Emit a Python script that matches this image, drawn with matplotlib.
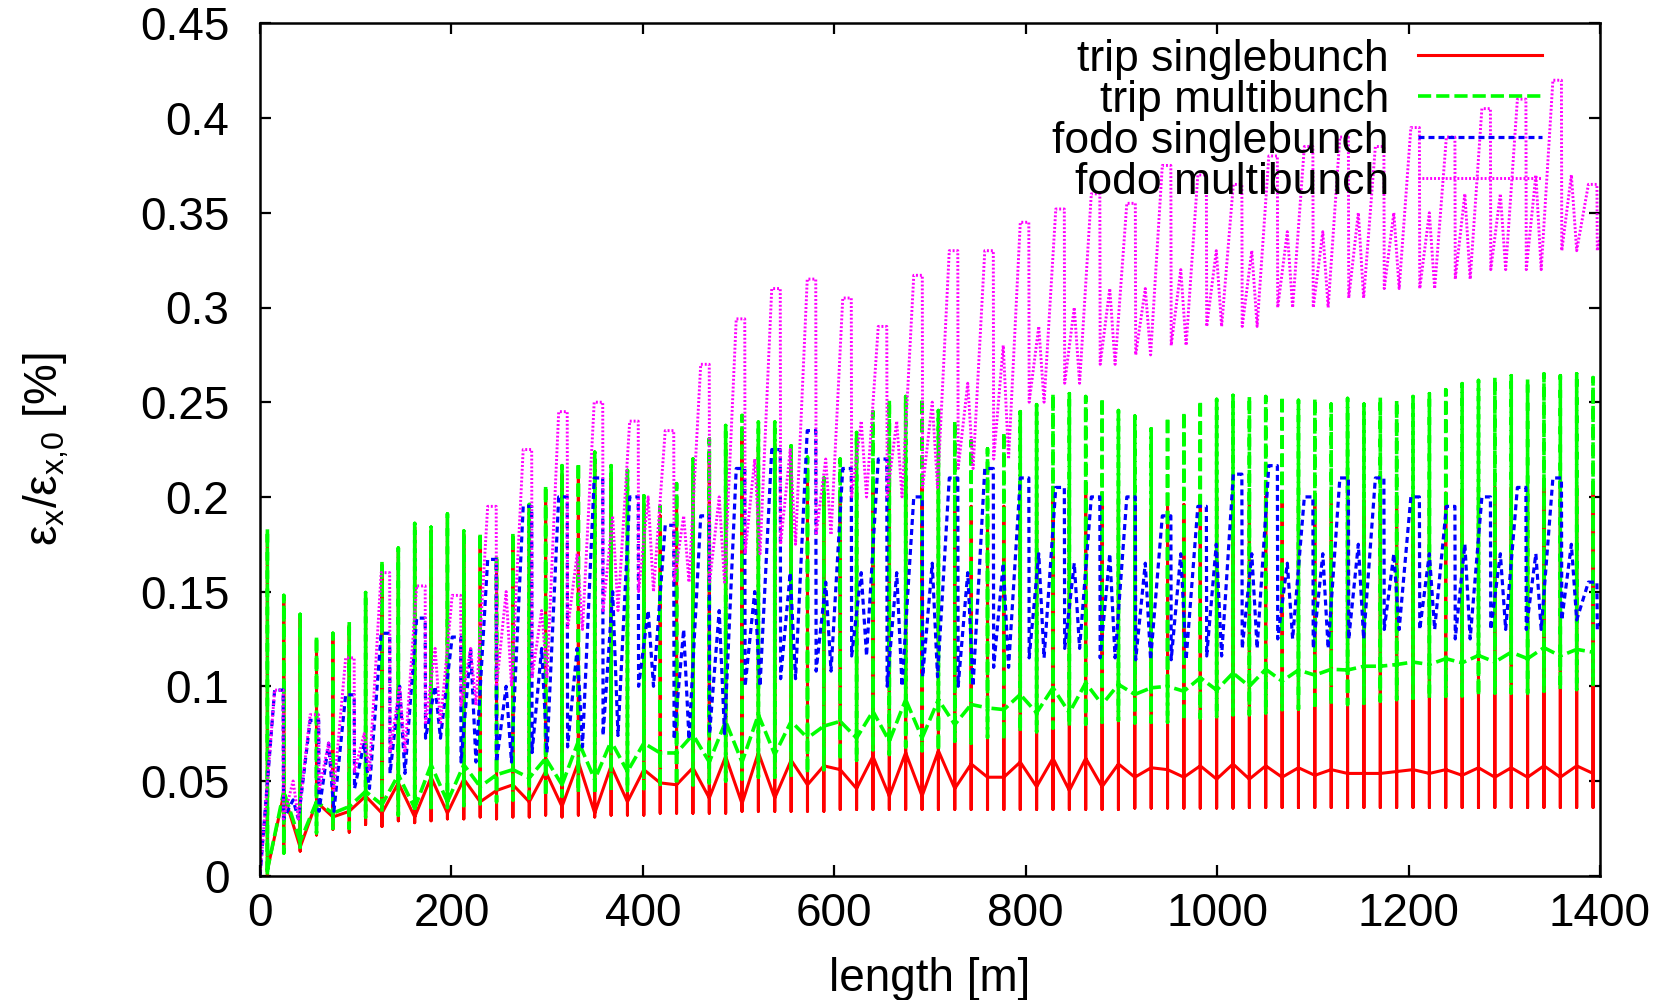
import numpy as np
import matplotlib
matplotlib.use("Agg")
import matplotlib.pyplot as plt
from matplotlib.lines import Line2D

plt.rcParams['font.family'] = ['Liberation Sans', 'DejaVu Sans']
plt.rcParams['lines.scale_dashes'] = False

# ---------------- data ----------------
# triplet lattice: cell positions [m]
trip_x0 = 7.7
trip_cell = 17.1
n_trip = 82
trip_x = trip_x0 + trip_cell * np.arange(n_trip)

# trip singlebunch (red): zigzag value, spike top, spike bottom
red_base = [0.003, 0.043, 0.015, 0.039, 0.031, 0.034, 0.042, 0.033, 0.049, 0.031,
            0.052, 0.033, 0.051, 0.039, 0.045, 0.048, 0.039, 0.055, 0.0365, 0.060,
            0.033, 0.058, 0.039, 0.056, 0.049, 0.048, 0.057, 0.041, 0.063, 0.038,
            0.065, 0.041, 0.061, 0.048, 0.058, 0.056, 0.046, 0.063, 0.042, 0.065,
            0.042, 0.066, 0.046, 0.059, 0.052, 0.052, 0.060, 0.047, 0.062, 0.045,
            0.062, 0.047, 0.059, 0.052, 0.057, 0.056, 0.052, 0.058, 0.051, 0.059,
            0.051, 0.058, 0.052, 0.057, 0.053, 0.056, 0.054, 0.054, 0.054, 0.055,
            0.056, 0.054, 0.056, 0.053, 0.057, 0.052, 0.057, 0.052, 0.058, 0.052,
            0.058, 0.054]
red_top = [0.180, 0.146, 0.136, 0.124, 0.126, 0.132, 0.147, 0.164, 0.171, 0.184,
           0.182, 0.189, 0.180, 0.179, 0.167, 0.179, 0.194, 0.204, 0.212, 0.214,
           0.218, 0.210, 0.207, 0.195, 0.190, 0.200, 0.212, 0.222, 0.228, 0.232,
           0.228, 0.228, 0.215, 0.208, 0.198, 0.200, 0.205, 0.208, 0.210, 0.210,
           0.208, 0.205, 0.200, 0.195, 0.190, 0.195, 0.200, 0.202, 0.205, 0.205,
           0.203, 0.202, 0.198, 0.195, 0.192, 0.195, 0.196, 0.198, 0.200, 0.200,
           0.200, 0.200, 0.200, 0.199, 0.200, 0.198, 0.200, 0.198, 0.200, 0.199,
           0.200, 0.201, 0.202, 0.203, 0.204, 0.205, 0.205, 0.204, 0.206, 0.205,
           0.206, 0.204]
red_bot = [0.000, 0.012, 0.013, 0.0215, 0.0245, 0.023, 0.027, 0.026, 0.029, 0.028,
           0.029, 0.030, 0.030, 0.031, 0.030, 0.031, 0.031, 0.032, 0.031, 0.032,
           0.031, 0.032, 0.032, 0.032, 0.033, 0.033, 0.033, 0.033, 0.033, 0.034,
           0.034, 0.034, 0.034, 0.034, 0.034, 0.035, 0.035, 0.035, 0.035, 0.035,
           0.035, 0.035, 0.035, 0.035, 0.035, 0.035, 0.035, 0.035, 0.035, 0.035,
           0.035, 0.035, 0.035, 0.0357, 0.0357, 0.0357, 0.0357, 0.0357, 0.0357, 0.0357,
           0.036, 0.036, 0.036, 0.036, 0.036, 0.036, 0.036, 0.036, 0.036, 0.036,
           0.036, 0.036, 0.036, 0.036, 0.036, 0.036, 0.036, 0.036, 0.036, 0.036,
           0.036, 0.036]

# trip multibunch (green): zigzag value, spike top, spike bottom
green_base = [0.003, 0.0445, 0.018, 0.039, 0.033, 0.0365, 0.0445, 0.0375, 0.0533, 0.0357,
              0.0586, 0.039, 0.0586, 0.047, 0.0533, 0.056, 0.0516, 0.062, 0.048, 0.071,
              0.0507, 0.071, 0.055, 0.070, 0.0648, 0.0648, 0.0745, 0.060, 0.0815, 0.060,
              0.085, 0.064, 0.0815, 0.0727, 0.079, 0.0815, 0.0727, 0.0868, 0.071, 0.093,
              0.0727, 0.093, 0.0798, 0.0904, 0.0886, 0.0877, 0.0957, 0.086, 0.0992, 0.086,
              0.1018, 0.0904, 0.101, 0.0957, 0.0992, 0.100, 0.0974, 0.1045, 0.098, 0.107,
              0.100, 0.109, 0.1027, 0.1086, 0.1059, 0.109, 0.1086, 0.1106, 0.1106, 0.1115,
              0.1128, 0.1115, 0.1146, 0.1124, 0.1163, 0.1128, 0.118, 0.1146, 0.1204, 0.116,
              0.1195, 0.118]
green_top = [0.183, 0.148, 0.138, 0.1265, 0.128, 0.134, 0.1495, 0.166, 0.173, 0.186,
             0.184, 0.191, 0.182, 0.181, 0.169, 0.181, 0.196, 0.206, 0.2165, 0.218,
             0.2236, 0.2165, 0.214, 0.2006, 0.195, 0.207, 0.220, 0.2307, 0.2377, 0.243,
             0.2395, 0.2395, 0.227, 0.221, 0.210, 0.220, 0.234, 0.245, 0.251, 0.253,
             0.252, 0.2456, 0.240, 0.2297, 0.2254, 0.234, 0.245, 0.2487, 0.2545, 0.2545,
             0.253, 0.252, 0.2456, 0.2427, 0.236, 0.242, 0.2448, 0.2508, 0.2515, 0.2536,
             0.253, 0.253, 0.253, 0.251, 0.252, 0.249, 0.252, 0.249, 0.2525, 0.251,
             0.253, 0.2545, 0.2566, 0.2598, 0.2615, 0.263, 0.264, 0.262, 0.265, 0.264,
             0.265, 0.263]
green_bot = [0.000, 0.012, 0.015, 0.0226, 0.025, 0.025, 0.031, 0.0335, 0.032, 0.034,
             0.036, 0.036, 0.037, 0.038, 0.039, 0.040, 0.041, 0.042, 0.042, 0.044,
             0.043, 0.045, 0.045, 0.046, 0.047, 0.048, 0.048, 0.049, 0.050, 0.051,
             0.052, 0.052, 0.053, 0.054, 0.056, 0.061, 0.061, 0.0665, 0.064, 0.068,
             0.066, 0.066, 0.071, 0.070, 0.073, 0.072, 0.076, 0.076, 0.078, 0.079,
             0.080, 0.081, 0.082, 0.0807, 0.081, 0.081, 0.082, 0.0833, 0.084, 0.085,
             0.085, 0.086, 0.0877, 0.088, 0.088, 0.0904, 0.0904, 0.091, 0.0922, 0.093,
             0.0937, 0.0937, 0.0948, 0.095, 0.095, 0.0965, 0.0965, 0.0965, 0.0974, 0.0983,
             0.0983, 0.101]

# FODO lattice: tooth positions [m]
fodo_x0 = 19.7
fodo_cell = 37.1
n_fodo = 38
fodo_x = fodo_x0 + fodo_cell * np.arange(n_fodo)

# fodo singlebunch (blue): plateau top, low after drop, intermediate bump
blue_top = [0.098, 0.082, 0.0955, 0.128, 0.136, 0.126, 0.167, 0.195, 0.200, 0.210,
            0.200, 0.185, 0.190, 0.215, 0.225, 0.235, 0.215, 0.220, 0.200, 0.210,
            0.215, 0.210, 0.205, 0.200, 0.200, 0.190, 0.195, 0.212, 0.2165, 0.200,
            0.210, 0.210, 0.200, 0.195, 0.200, 0.205, 0.210, 0.155]
blue_low = [0.030, 0.034, 0.046, 0.054, 0.0726, 0.060, 0.060, 0.065, 0.068, 0.074,
            0.100, 0.072, 0.075, 0.100, 0.104, 0.108, 0.116, 0.100, 0.105, 0.100,
            0.110, 0.115, 0.120, 0.115, 0.114, 0.114, 0.116, 0.120, 0.125, 0.120,
            0.125, 0.130, 0.130, 0.125, 0.130, 0.130, 0.135, 0.130]
blue_mid = [0.040, 0.070, 0.070, 0.100, 0.100, 0.120, 0.100, 0.120, 0.120, 0.150,
            0.140, 0.130, 0.140, 0.150, 0.160, 0.155, 0.160, 0.160, 0.165, 0.160,
            0.165, 0.170, 0.165, 0.170, 0.165, 0.170, 0.175, 0.170, 0.165, 0.170,
            0.175, 0.170, 0.170, 0.175, 0.170, 0.170, 0.175, 0.140]

# fodo multibunch (magenta): plateau top, low after drop, intermediate bump
mag_top = [0.098, 0.085, 0.115, 0.160, 0.153, 0.148, 0.195, 0.225, 0.245, 0.250,
           0.240, 0.235, 0.270, 0.294, 0.310, 0.315, 0.305, 0.290, 0.317, 0.330,
           0.330, 0.345, 0.352, 0.360, 0.355, 0.375, 0.370, 0.365, 0.380, 0.385,
           0.390, 0.385, 0.395, 0.390, 0.405, 0.410, 0.420, 0.365]
mag_low = [0.030, 0.045, 0.055, 0.065, 0.080, 0.090, 0.100, 0.105, 0.130, 0.140,
           0.150, 0.155, 0.155, 0.170, 0.175, 0.180, 0.200, 0.200, 0.205, 0.215,
           0.220, 0.250, 0.260, 0.270, 0.275, 0.280, 0.290, 0.290, 0.300, 0.300,
           0.305, 0.310, 0.310, 0.315, 0.320, 0.320, 0.330, 0.330]
mag_mid = [0.050, 0.070, 0.075, 0.100, 0.120, 0.120, 0.150, 0.140, 0.170, 0.190,
           0.200, 0.190, 0.200, 0.220, 0.225, 0.220, 0.240, 0.240, 0.250, 0.260,
           0.280, 0.290, 0.300, 0.310, 0.310, 0.320, 0.330, 0.330, 0.340, 0.340,
           0.350, 0.350, 0.350, 0.360, 0.360, 0.370, 0.370, 0.350]

labels = ["trip singlebunch", "trip multibunch", "fodo singlebunch", "fodo multibunch"]
colors = ["#ff0000", "#00ff00", "#0000ff", "#ff00ff"]

# ---------------- build polylines from the data ----------------
def trip_path(x, base, top, bot):
    xs, ys = [], []
    for xi, b, t, lo in zip(x, base, top, bot):
        xs += [xi, xi, xi, xi]
        ys += [b, t, lo, b]
    return np.array(xs), np.array(ys)

def fodo_path(x, top, low, mid, cell):
    xs, ys = [0.0], [0.0]
    for xi, t, lo, md in zip(x, top, low, mid):
        xs += [xi - 0.12 * cell, xi + 0.12 * cell, xi + 0.13 * cell,
               xi + 0.40 * cell, xi + 0.55 * cell]
        ys += [t, t, lo, md, lo]
    return np.array(xs), np.array(ys)

rx, ry = trip_path(trip_x, red_base, red_top, red_bot)
gx, gy = trip_path(trip_x, green_base, green_top, green_bot)
bx, by = fodo_path(fodo_x, blue_top, blue_low, blue_mid, fodo_cell)
mx, my = fodo_path(fodo_x, mag_top, mag_low, mag_mid, fodo_cell)

# ---------------- plot ----------------
fig = plt.figure(figsize=(16.68, 10.0), dpi=100)
ax = fig.add_axes([0.1559, 0.1243, 0.8033, 0.8523])

styles = [
    dict(color=colors[0], lw=2.2, linestyle='-'),
    dict(color=colors[1], lw=2.6, linestyle=(0, (9.5, 3.6))),
    dict(color=colors[2], lw=2.3, linestyle=(0, (4.3, 2.9))),
    dict(color=colors[3], lw=2.1, linestyle=(0, (1.4, 1.4))),
]

ax.plot(rx, ry, **styles[0])
ax.plot(gx, gy, **styles[1])
ax.plot(bx, by, **styles[2])
ax.plot(mx, my, **styles[3])

ax.set_xlim(0, 1400)
ax.set_ylim(0, 0.45)
ax.set_xticks(np.arange(0, 1401, 200))
ax.set_yticks(np.arange(0, 0.451, 0.05))
ax.set_yticklabels(["0", "0.05", "0.1", "0.15", "0.2", "0.25", "0.3", "0.35", "0.4", "0.45"])

fs = 33
ax.tick_params(axis='both', direction='in', length=8, width=1.6,
               top=True, right=True, labelsize=fs)
ax.tick_params(axis='x', pad=12)
ax.tick_params(axis='y', pad=22)
for sp in ax.spines.values():
    sp.set_linewidth(1.8)

ax.set_xlabel("length [m]", fontsize=fs, labelpad=15)
ax.set_ylabel(r"ε$_\mathregular{x}$/ε$_\mathregular{x{,}0}$ [%]", fontsize=fs, labelpad=50)

handles = [Line2D([], [], **s) for s in styles]
leg = ax.legend(handles, labels, loc='upper right', bbox_to_anchor=(0.957, 0.982),
                frameon=False, markerfirst=False, fontsize=32, handlelength=2.8,
                handletextpad=0.65, labelspacing=0.0, borderpad=0.0, borderaxespad=0.0)

fig.savefig("out.png", dpi=100)
